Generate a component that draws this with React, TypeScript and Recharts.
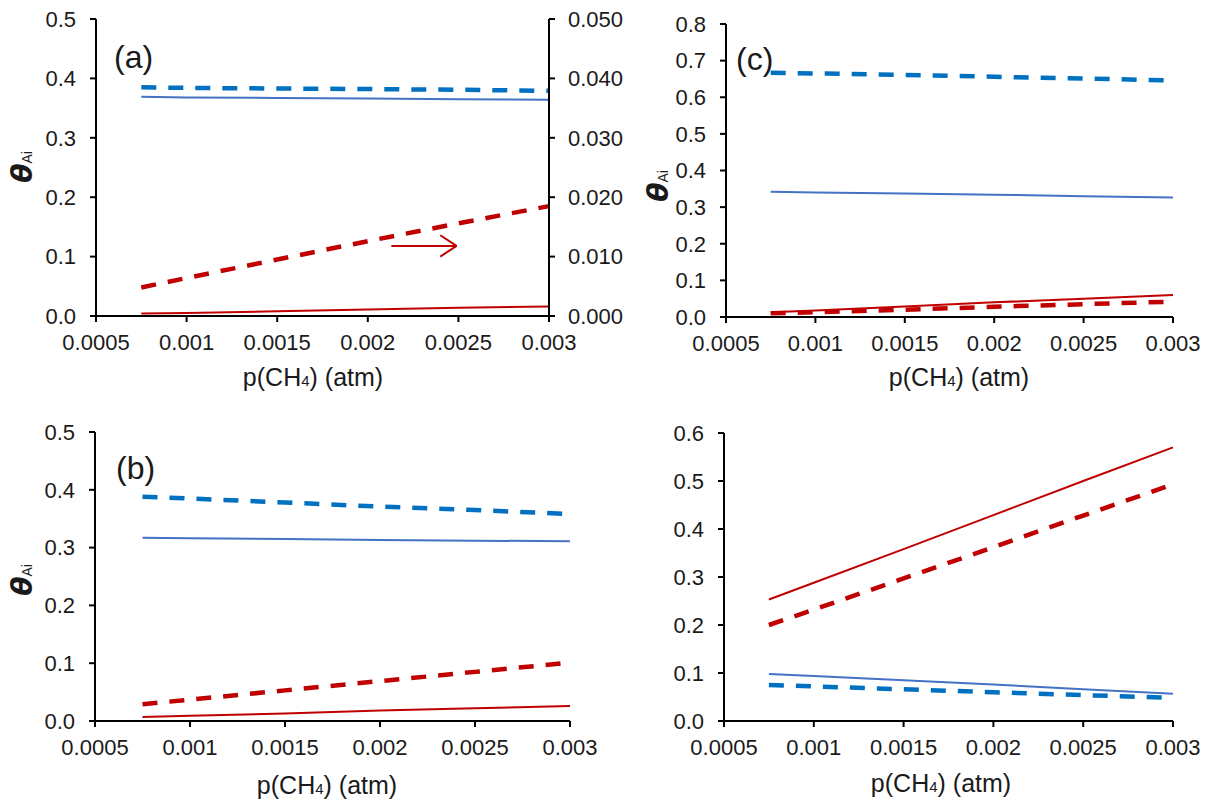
import { LineChart, Line, XAxis, YAxis, ReferenceLine } from 'recharts';

// p(CH4) in atm, shared by all four panels
const pressure = [0.00075, 0.001, 0.0015, 0.002, 0.0025, 0.003];

// panel (a) — red dashed is read on the right axis
const blueDashA = [0.385, 0.384, 0.383, 0.382, 0.381, 0.379];
const blueSolidA = [0.369, 0.368, 0.367, 0.366, 0.365, 0.364];
const redDashA = [0.0048, 0.0064, 0.0095, 0.0126, 0.0156, 0.0185];
const redSolidA = [0.004, 0.005, 0.008, 0.011, 0.014, 0.016];

// panel (c)
const blueDashC = [0.667, 0.665, 0.661, 0.656, 0.651, 0.646];
const blueSolidC = [0.342, 0.34, 0.337, 0.334, 0.33, 0.326];
const redDashC = [0.01, 0.013, 0.02, 0.028, 0.035, 0.042];
const redSolidC = [0.013, 0.018, 0.029, 0.04, 0.05, 0.06];

// panel (b)
const blueDashB = [0.388, 0.385, 0.378, 0.371, 0.365, 0.358];
const blueSolidB = [0.317, 0.316, 0.315, 0.313, 0.312, 0.311];
const redDashB = [0.029, 0.037, 0.053, 0.069, 0.085, 0.101];
const redSolidB = [0.007, 0.009, 0.013, 0.018, 0.022, 0.026];

// panel (d)
const blueDashD = [0.075, 0.072, 0.066, 0.06, 0.054, 0.048];
const blueSolidD = [0.098, 0.094, 0.085, 0.076, 0.066, 0.057];
const redDashD = [0.2, 0.232, 0.297, 0.362, 0.428, 0.493];
const redSolidD = [0.253, 0.288, 0.358, 0.429, 0.5, 0.57];

const xTicks = [0.0005, 0.001, 0.0015, 0.002, 0.0025, 0.003];
const yTicks5 = [0, 0.1, 0.2, 0.3, 0.4, 0.5];
const yTicks6 = [0, 0.1, 0.2, 0.3, 0.4, 0.5, 0.6];
const yTicks8 = [0, 0.1, 0.2, 0.3, 0.4, 0.5, 0.6, 0.7, 0.8];
const yTicksRightA = [0, 0.01, 0.02, 0.03, 0.04, 0.05];

const FONT = '"Liberation Sans", Arial, sans-serif';
const INK = '#1a1a1a';
const BLUE_DASH = '#0070C0';
const BLUE = '#4472C4';
const RED = '#C00000';
const DASH = '15 12';

const tick = { fill: INK, fontSize: 22, fontFamily: FONT };
const axisLine = { stroke: '#000', strokeWidth: 2 };
const tickLine = { stroke: '#000', strokeWidth: 2 };

function rows(bd: number[], bs: number[], rd: number[], rs: number[]) {
  return pressure.map((p, i) => ({ p, bd: bd[i], bs: bs[i], rd: rd[i], rs: rs[i] }));
}

interface PanelProps {
  left: number;
  top: number;
  width: number;
  height: number;
  margin: { top: number; right: number; bottom: number; left: number };
  data: ReturnType<typeof rows>;
  yMax: number;
  yTicks: number[];
  rightAxis?: boolean;
  arrow?: boolean;
}

function Panel({ left, top, width, height, margin, data, yMax, yTicks, rightAxis, arrow }: PanelProps) {
  return (
    <div style={{ position: 'absolute', left, top }}>
      <LineChart width={width} height={height} data={data} margin={margin}>
        <XAxis
          dataKey="p"
          type="number"
          domain={[0.0005, 0.003]}
          ticks={xTicks}
          tickFormatter={(v: number) => String(v)}
          tick={tick}
          axisLine={axisLine}
          tickLine={tickLine}
          tickSize={6}
          tickMargin={12}
          height={40}
          interval={0}
        />
        <XAxis xAxisId="top" orientation="top" type="number" domain={[0, 1]} tick={false} tickLine={false} axisLine={axisLine} height={0} />
        <YAxis
          yAxisId="left"
          type="number"
          domain={[0, yMax]}
          ticks={yTicks}
          tickFormatter={(v: number) => v.toFixed(1)}
          tick={tick}
          axisLine={axisLine}
          tickLine={tickLine}
          tickSize={6}
          tickMargin={14}
          width={70}
          interval={0}
        />
        {rightAxis ? (
          <YAxis
            yAxisId="right"
            orientation="right"
            type="number"
            domain={[0, 0.05]}
            ticks={yTicksRightA}
            tickFormatter={(v: number) => v.toFixed(3)}
            tick={tick}
            axisLine={axisLine}
            tickLine={tickLine}
            tickSize={6}
            tickMargin={13}
            width={80}
            interval={0}
          />
        ) : (
          <YAxis yAxisId="right" orientation="right" type="number" domain={[0, 1]} tick={false} tickLine={false} axisLine={axisLine} width={0} />
        )}
        <Line yAxisId="left" dataKey="bd" stroke={BLUE_DASH} strokeWidth={4.5} strokeDasharray={DASH} dot={false} isAnimationActive={false} />
        <Line yAxisId="left" dataKey="bs" stroke={BLUE} strokeWidth={2} dot={false} isAnimationActive={false} />
        <Line yAxisId={rightAxis ? 'right' : 'left'} dataKey="rd" stroke={RED} strokeWidth={4.5} strokeDasharray={DASH} dot={false} isAnimationActive={false} />
        <Line yAxisId="left" dataKey="rs" stroke={RED} strokeWidth={2} dot={false} isAnimationActive={false} />
        {arrow && (
          <>
            <ReferenceLine yAxisId="left" segment={[{ x: 0.00213, y: 0.118 }, { x: 0.00249, y: 0.118 }]} stroke={RED} strokeWidth={2} />
            <ReferenceLine yAxisId="left" segment={[{ x: 0.0024, y: 0.136 }, { x: 0.00249, y: 0.118 }]} stroke={RED} strokeWidth={2} />
            <ReferenceLine yAxisId="left" segment={[{ x: 0.0024, y: 0.1 }, { x: 0.00249, y: 0.118 }]} stroke={RED} strokeWidth={2} />
          </>
        )}
      </LineChart>
    </div>
  );
}

function XTitle({ cx, cy }: { cx: number; cy: number }) {
  return (
    <div
      style={{
        position: 'absolute',
        left: cx,
        top: cy,
        transform: 'translate(-50%, -50%)',
        fontFamily: FONT,
        fontSize: 25,
        color: INK,
        whiteSpace: 'nowrap',
      }}
    >
      p(CH<span style={{ fontSize: 15 }}>4</span>) (atm)
    </div>
  );
}

function YTitle({ cx, cy }: { cx: number; cy: number }) {
  return (
    <div
      style={{
        position: 'absolute',
        left: cx,
        top: cy,
        transform: 'translate(-50%, -50%) rotate(-90deg)',
        fontFamily: FONT,
        color: INK,
        whiteSpace: 'nowrap',
      }}
    >
      <span style={{ fontSize: 28, fontStyle: 'italic', fontWeight: 700, fontFamily: '"DejaVu Sans", sans-serif' }}>θ</span>
      <span style={{ fontSize: 14 }}>Ai</span>
    </div>
  );
}

function Tag({ x, y, text }: { x: number; y: number; text: string }) {
  return (
    <div style={{ position: 'absolute', left: x, top: y, fontFamily: FONT, fontSize: 32, color: INK, lineHeight: 1 }}>
      {text}
    </div>
  );
}

export default function App() {
  return (
    <div style={{ position: 'absolute', left: 0, top: 0, width: 1210, height: 803, background: '#fff', overflow: 'hidden' }}>
      <Panel
        left={0}
        top={0}
        width={660}
        height={400}
        margin={{ top: 19, right: 31, bottom: 44, left: 26 }}
        data={rows(blueDashA, blueSolidA, redDashA, redSolidA)}
        yMax={0.5}
        yTicks={yTicks5}
        rightAxis
        arrow
      />
      <Panel
        left={610}
        top={0}
        width={600}
        height={400}
        margin={{ top: 24, right: 37, bottom: 43, left: 46 }}
        data={rows(blueDashC, blueSolidC, redDashC, redSolidC)}
        yMax={0.8}
        yTicks={yTicks8}
      />
      <Panel
        left={0}
        top={400}
        width={610}
        height={403}
        margin={{ top: 32, right: 40, bottom: 42, left: 25 }}
        data={rows(blueDashB, blueSolidB, redDashB, redSolidB)}
        yMax={0.5}
        yTicks={yTicks5}
      />
      <Panel
        left={610}
        top={400}
        width={600}
        height={403}
        margin={{ top: 33, right: 37, bottom: 42, left: 44 }}
        data={rows(blueDashD, blueSolidD, redDashD, redSolidD)}
        yMax={0.6}
        yTicks={yTicks6}
      />
      <XTitle cx={313} cy={377} />
      <XTitle cx={959} cy={377} />
      <XTitle cx={327} cy={785} />
      <XTitle cx={941} cy={783} />
      <YTitle cx={22} cy={167} />
      <YTitle cx={658} cy={186} />
      <YTitle cx={22} cy={580} />
      <Tag x={114} y={41} text="(a)" />
      <Tag x={736} y={43} text="(c)" />
      <Tag x={116} y={452} text="(b)" />
    </div>
  );
}
